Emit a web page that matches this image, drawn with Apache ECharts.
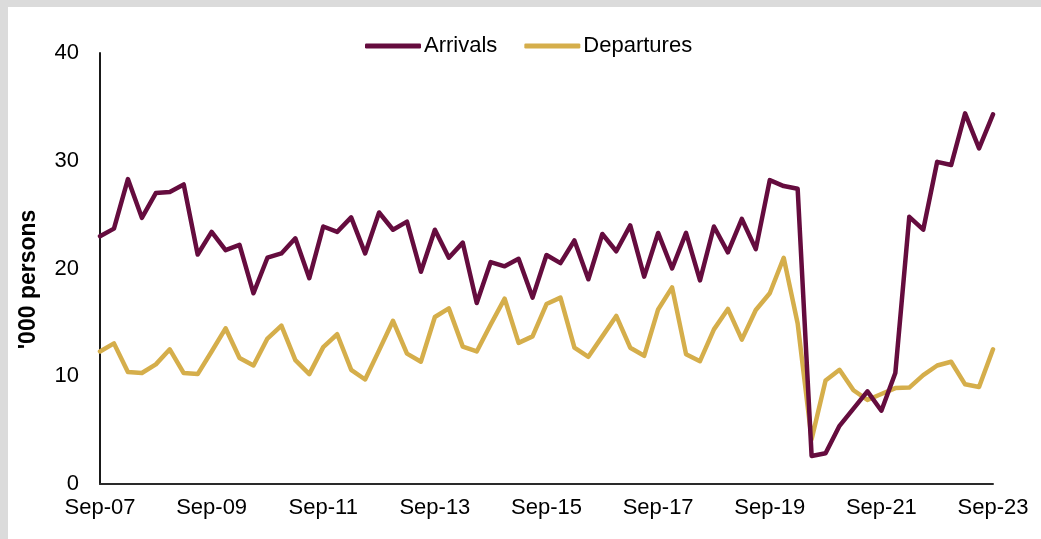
<!DOCTYPE html>
<html>
<head>
<meta charset="utf-8">
<title>Arrivals and Departures</title>
<script src="https://cdn.jsdelivr.net/npm/echarts@6/dist/echarts.min.js"></script>
<style>
  html, body { margin: 0; padding: 0; background: #dbdbdb; width: 1041px; height: 539px; overflow: hidden; }
  #chart { position: absolute; left: 8px; top: 7px; width: 1033px; height: 532px; background: #ffffff; }
</style>
</head>
<body>
<div id="chart"></div>
<script>
// Quarterly periods, Sep-07 to Sep-23
const quarters = [
  "Sep-07","Dec-07",
  "Mar-08","Jun-08","Sep-08","Dec-08",
  "Mar-09","Jun-09","Sep-09","Dec-09",
  "Mar-10","Jun-10","Sep-10","Dec-10",
  "Mar-11","Jun-11","Sep-11","Dec-11",
  "Mar-12","Jun-12","Sep-12","Dec-12",
  "Mar-13","Jun-13","Sep-13","Dec-13",
  "Mar-14","Jun-14","Sep-14","Dec-14",
  "Mar-15","Jun-15","Sep-15","Dec-15",
  "Mar-16","Jun-16","Sep-16","Dec-16",
  "Mar-17","Jun-17","Sep-17","Dec-17",
  "Mar-18","Jun-18","Sep-18","Dec-18",
  "Mar-19","Jun-19","Sep-19","Dec-19",
  "Mar-20","Jun-20","Sep-20","Dec-20",
  "Mar-21","Jun-21","Sep-21","Dec-21",
  "Mar-22","Jun-22","Sep-22","Dec-22",
  "Mar-23","Jun-23","Sep-23"
];

// Arrivals, '000 persons
const arrivals = [
  23.0, 23.7,
  28.3, 24.7, 27.0, 27.1,
  27.8, 21.3, 23.4, 21.7,
  22.2, 17.7, 21.0, 21.4,
  22.8, 19.1, 23.9, 23.4,
  24.75, 21.4, 25.2, 23.6,
  24.35, 19.7, 23.6, 21.0,
  22.4, 16.8, 20.6, 20.2,
  20.9, 17.3, 21.25, 20.5,
  22.6, 19.0, 23.2, 21.6,
  24.0, 19.25, 23.3, 20.0,
  23.3, 18.9, 23.9, 21.5,
  24.6, 21.8, 28.2, 27.65,
  27.4, 2.6, 2.85, 5.4,
  7.0, 8.6, 6.8, 10.3,
  24.8, 23.6, 29.9, 29.6,
  34.4, 31.15, 34.3
];

// Departures, '000 persons
const departures = [
  12.3, 13.05,
  10.4, 10.3, 11.1, 12.5,
  10.3, 10.2, 12.3, 14.45,
  11.7, 11.0, 13.5, 14.7,
  11.5, 10.2, 12.7, 13.9,
  10.6, 9.7, 12.4, 15.15,
  12.1, 11.35, 15.5, 16.3,
  12.75, 12.3, 14.8, 17.2,
  13.1, 13.7, 16.7, 17.3,
  12.65, 11.8, 13.7, 15.6,
  12.65, 11.9, 16.2, 18.25,
  12.05, 11.4, 14.35, 16.25,
  13.4, 16.15, 17.7, 21.0,
  14.9, 4.15, 9.6, 10.6,
  8.7, 7.8, 8.35, 8.9,
  8.95, 10.1, 11.0, 11.35,
  9.25, 9.0, 12.5
];

const yTicks = { min: 0, max: 40, interval: 10 };

const FONT = '"Liberation Sans", Arial, Helvetica, sans-serif';
const MAROON = '#650c3e';
const GOLD = '#d5ae4b';

const chart = echarts.init(document.getElementById('chart'), null, { renderer: 'canvas' });

chart.setOption({
  animation: false,
  backgroundColor: '#ffffff',
  textStyle: { fontFamily: FONT },
  legend: {
    left: 352,
    top: 23,
    icon: 'roundRect',
    itemWidth: 56,
    itemHeight: 5,
    itemGap: 27,
    textStyle: { fontFamily: FONT, fontSize: 22, color: '#000000', padding: [0, 0, 0, -2] },
    data: ['Arrivals', 'Departures']
  },
  grid: { left: 92, right: 48, top: 46, bottom: 55, containLabel: false },
  xAxis: {
    type: 'category',
    data: quarters,
    boundaryGap: false,
    axisLine: { show: true, lineStyle: { color: '#2a2a2a', width: 2 } },
    axisTick: { show: false },
    axisLabel: {
      interval: 7,
      margin: 13,
      fontFamily: FONT,
      fontSize: 22,
      color: '#000000'
    },
    splitLine: { show: false }
  },
  yAxis: {
    type: 'value',
    min: yTicks.min,
    max: yTicks.max,
    interval: yTicks.interval,
    name: "'000 persons",
    nameLocation: 'middle',
    nameGap: 60,
    nameTextStyle: {
      fontFamily: FONT,
      fontSize: 23,
      fontWeight: 'bold',
      color: '#000000',
      padding: [0, 22, 0, 0]
    },
    axisLine: { show: true, lineStyle: { color: '#1a1a1a', width: 2 } },
    axisTick: { show: false },
    axisLabel: { margin: 21, fontFamily: FONT, fontSize: 22, color: '#000000' },
    splitLine: { show: false }
  },
  series: [
    {
      name: 'Arrivals',
      type: 'line',
      data: arrivals,
      showSymbol: false,
      symbol: 'none',
      smooth: false,
      lineStyle: { color: MAROON, width: 4.5, cap: 'round', join: 'round' },
      itemStyle: { color: MAROON },
      z: 3
    },
    {
      name: 'Departures',
      type: 'line',
      data: departures,
      showSymbol: false,
      symbol: 'none',
      smooth: false,
      lineStyle: { color: GOLD, width: 4.5, cap: 'round', join: 'round' },
      itemStyle: { color: GOLD },
      z: 2
    }
  ]
});
</script>
</body>
</html>
